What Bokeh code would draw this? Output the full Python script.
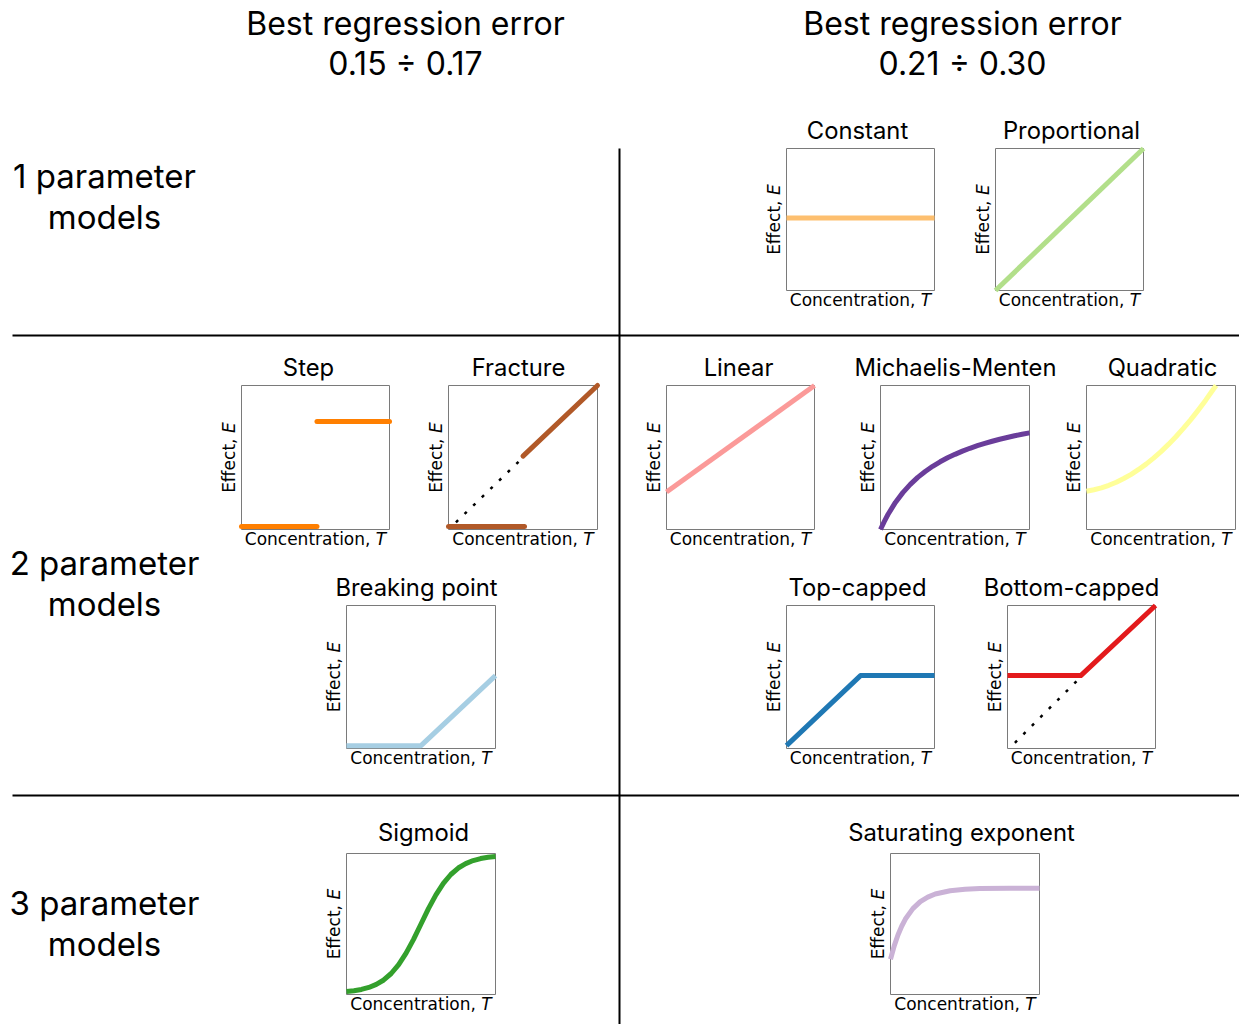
from bokeh.plotting import figure
from bokeh.models import Range1d
from bokeh.core.properties import value
from bokeh.embed import file_html
from bokeh.resources import INLINE

W, H = 1239, 1024

# ---------------------------------------------------------------
# Model curves: concentration T and effect E, both scaled to 0..1
# ---------------------------------------------------------------
constant_T = [0.0, 1.0]
constant_E = [0.51, 0.51]

proportional_T = [0.0, 1.0]
proportional_E = [0.0, 1.0]

step_low_T = [0.0, 0.51]
step_low_E = [0.02, 0.02]
step_high_T = [0.51, 1.0]
step_high_E = [0.75, 0.75]

fracture_low_T = [0.0, 0.51]
fracture_low_E = [0.02, 0.02]
fracture_high_T = [0.5, 1.0]
fracture_high_E = [0.51, 1.0]
fracture_guide_T = [0.05, 0.5]
fracture_guide_E = [0.05, 0.5]

linear_T = [0.0, 1.0]
linear_E = [0.26, 1.0]

menten_T = [0.0, 0.025, 0.05, 0.1, 0.15, 0.2, 0.25, 0.3, 0.35, 0.4, 0.45, 0.5,
            0.55, 0.6, 0.65, 0.7, 0.75, 0.8, 0.85, 0.9, 0.95, 1.0]
menten_E = [0.0, 0.055, 0.104, 0.188, 0.256, 0.313, 0.362, 0.403, 0.439, 0.47,
            0.498, 0.522, 0.544, 0.564, 0.582, 0.598, 0.613, 0.627, 0.639,
            0.651, 0.661, 0.671]

quadratic_T = [0.0, 0.05, 0.1, 0.15, 0.2, 0.25, 0.3, 0.35, 0.4, 0.45, 0.5,
               0.55, 0.6, 0.65, 0.7, 0.75, 0.8, 0.85, 0.87]
quadratic_E = [0.266, 0.276, 0.289, 0.307, 0.328, 0.354, 0.383, 0.417, 0.454,
               0.496, 0.541, 0.591, 0.644, 0.702, 0.763, 0.829, 0.898, 0.972,
               1.0]

breaking_T = [0.0, 0.5, 1.0]
breaking_E = [0.02, 0.02, 0.51]

topcap_T = [0.0, 0.5, 1.0]
topcap_E = [0.02, 0.51, 0.51]

botcap_T = [0.0, 0.495, 1.0]
botcap_E = [0.51, 0.51, 1.0]
botcap_guide_T = [0.05, 0.495]
botcap_guide_E = [0.04, 0.5]

sigmoid_T = [0.0, 0.05, 0.1, 0.15, 0.2, 0.25, 0.3, 0.35, 0.4, 0.45, 0.5, 0.55,
             0.6, 0.65, 0.7, 0.75, 0.8, 0.85, 0.9, 0.95, 1.0]
sigmoid_E = [0.021, 0.027, 0.036, 0.05, 0.072, 0.103, 0.149, 0.212, 0.293,
             0.391, 0.5, 0.609, 0.707, 0.788, 0.851, 0.897, 0.928, 0.95, 0.964,
             0.973, 0.979]

satexp_T = [0.0, 0.025, 0.05, 0.075, 0.1, 0.15, 0.2, 0.25, 0.3, 0.4, 0.5, 0.6,
            0.8, 1.0]
satexp_E = [0.25, 0.345, 0.422, 0.484, 0.535, 0.609, 0.659, 0.691, 0.713,
            0.736, 0.746, 0.751, 0.753, 0.754]

# Column headers and row labels
col_headers = [("Best regression error", "0.15 \u00f7 0.17"),
               ("Best regression error", "0.21 \u00f7 0.30")]
row_labels = [("1 parameter", "models"), ("2 parameter", "models"),
              ("3 parameter", "models")]

# ---------------------------------------------------------------
# Page layout (pixel positions on the canvas)
# ---------------------------------------------------------------
HEAD_FONT = "Inter"
AX_FONT = "DejaVu Sans"
HEAD_SIZE = 32
ROW_SIZE = 33
TITLE_SIZE = 23.8
AX_SIZE = 17

p = figure(width=W, height=H, x_range=Range1d(0, W), y_range=Range1d(H, 0),
           output_backend="svg", toolbar_location=None, min_border=0,
           x_axis_location=None, y_axis_location=None,
           outline_line_color=None, background_fill_color="white",
           border_fill_color="white")
p.xgrid.visible = False
p.ygrid.visible = False


def label(x, y, txt, font, size, style="normal", align="center", angle=0.0):
    p.text(x=[x], y=[y], text=[txt], text_font=value(font),
           text_font_size=f"{size}px", text_font_style=style,
           text_align=align, text_baseline="middle", angle=angle,
           text_color="black")


# grid dividers
p.segment(x0=[619, 12, 12], y0=[148, 335, 795], x1=[619, W, W], y1=[H, 335, 795],
          line_color="black", line_width=2)

# column headers
for cx, (l1, l2) in zip([405, 962], col_headers):
    label(cx, 23, l1, HEAD_FONT, HEAD_SIZE)
    label(cx, 63, l2, HEAD_FONT, HEAD_SIZE)

# row labels
for cy, (l1, l2) in zip([175, 562, 902], row_labels):
    label(104, cy, l1, HEAD_FONT, ROW_SIZE)
    label(104, cy + 41, l2, HEAD_FONT, ROW_SIZE)

# widths (in em) of DejaVu Sans strings used for the two-part axis labels
CONC_EM = 7.711   # "Concentration, "
T_EM = 0.611      # italic "T"
EFF_EM = 3.529    # "Effect, "
E_EM = 0.632      # italic "E"


def panel(left, top, right, bottom, title, title_x, title_gap=17.6):
    """Small axes box with title and axis labels; returns its glyph API."""
    sub = p.subplot(x_source=Range1d(0, 1), y_source=Range1d(0, 1),
                    x_target=Range1d(left, right),
                    y_target=Range1d(bottom, top))
    sub.quad(left=[0], right=[1], bottom=[0], top=[1], fill_color=None,
             line_color="#7a7a7a", line_width=1)
    label(title_x, top - title_gap, title, HEAD_FONT, TITLE_SIZE)
    # x label
    cx = (left + right) / 2
    x0 = cx - (CONC_EM + T_EM) * AX_SIZE / 2
    label(x0, bottom + 9.9, "Concentration,", AX_FONT, AX_SIZE, align="left")
    label(x0 + CONC_EM * AX_SIZE, bottom + 9.9, "T", AX_FONT, AX_SIZE,
          style="italic", align="left")
    # y label (rotated)
    cy = (top + bottom) / 2
    y0 = cy + (EFF_EM + E_EM) * AX_SIZE / 2
    label(left - 12.2, y0, "Effect,", AX_FONT, AX_SIZE, align="left",
          angle=1.5708)
    label(left - 12.2, y0 - EFF_EM * AX_SIZE, "E", AX_FONT, AX_SIZE,
          style="italic", align="left", angle=1.5708)
    return sub


LW = 5


def curve(sub, t, e, color, cap="butt"):
    sub.line(x=t, y=e, line_color=color, line_width=LW, line_cap=cap,
             line_join="round")


def guide(sub, t, e):
    sub.line(x=t, y=e, line_color="black", line_width=2.5, line_dash="3 9")


# 1 parameter models
s = panel(786, 148, 934, 290, "Constant", 857)
curve(s, constant_T, constant_E, "#fdbf6f")
s = panel(995, 148, 1143, 290, "Proportional", 1071)
curve(s, proportional_T, proportional_E, "#b2df8a")

# 2 parameter models
s = panel(241, 385, 389, 529, "Step", 308)
curve(s, step_low_T, step_low_E, "#ff7f00", "round")
curve(s, step_high_T, step_high_E, "#ff7f00", "round")

s = panel(448, 385, 597, 529, "Fracture", 518)
guide(s, fracture_guide_T, fracture_guide_E)
curve(s, fracture_low_T, fracture_low_E, "#b15928", "round")
curve(s, fracture_high_T, fracture_high_E, "#b15928", "round")

s = panel(666, 385, 814, 529, "Linear", 738)
curve(s, linear_T, linear_E, "#fb9a99")

s = panel(880, 385, 1029, 529, "Michaelis-Menten", 955)
curve(s, menten_T, menten_E, "#6a3d9a")

s = panel(1086, 385, 1235, 529, "Quadratic", 1162)
curve(s, quadratic_T, quadratic_E, "#ffff99")

s = panel(346, 605, 495, 748, "Breaking point", 416)
curve(s, breaking_T, breaking_E, "#a6cee3")

s = panel(786, 605, 934, 748, "Top-capped", 857)
curve(s, topcap_T, topcap_E, "#1f78b4")

s = panel(1007, 605, 1155, 748, "Bottom-capped", 1071)
guide(s, botcap_guide_T, botcap_guide_E)
curve(s, botcap_T, botcap_E, "#e31a1c")

# 3 parameter models
s = panel(346, 853, 495, 994, "Sigmoid", 423, title_gap=21)
curve(s, sigmoid_T, sigmoid_E, "#33a02c")

s = panel(890, 853, 1039, 994, "Saturating exponent", 961, title_gap=21)
curve(s, satexp_T, satexp_E, "#cab2d6")

open("out.html", "w").write(file_html(p, INLINE))
